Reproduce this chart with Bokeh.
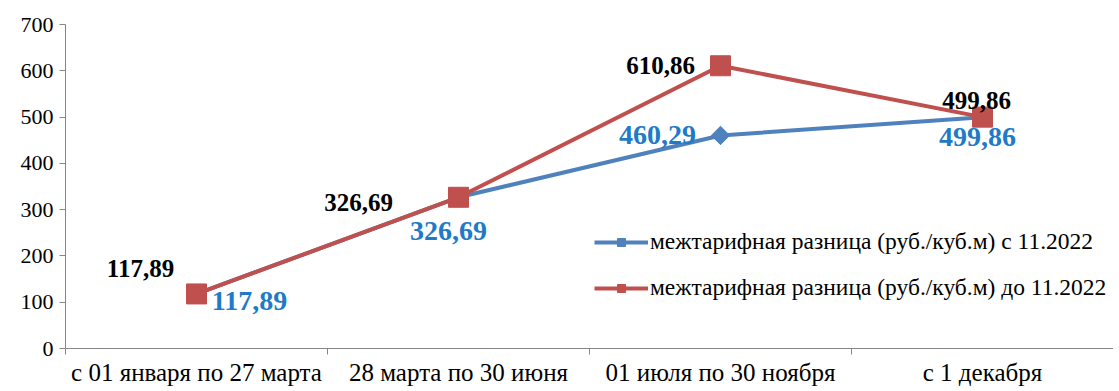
import numpy as np
from bokeh.plotting import figure
from bokeh.models import Range1d, FixedTicker, Legend, LegendItem, ColumnDataSource
from bokeh.core.properties import value
from bokeh.embed import file_html
from bokeh.resources import INLINE

categories = ["с 01 января по 27 марта", "28 марта по 30 июня", "01 июля по 30 ноября", "с 1 декабря"]
series_new = [117.89, 326.69, 460.29, 499.86]   # с 11.2022
series_old = [117.89, 326.69, 610.86, 499.86]   # до 11.2022
name_new = "межтарифная разница (руб./куб.м) с 11.2022"
name_old = "межтарифная разница (руб./куб.м) до 11.2022"
y_ticks = [0, 100, 200, 300, 400, 500, 600, 700]

# label offsets (screen px) - style only
off_old = [(-56, -25), (-100, 5), (-60, 0), (-6, -17)]
off_new = [(53, 7), (-10, 34), (-63, 0), (-5, 20)]

FONT = "Liberation Serif"
BLUE = "#4F81BD"
RED = "#C0504D"
BLUE_TXT = "#1F7BC8"

n = len(categories)
xs = np.arange(n) + 0.5

p = figure(width=1113, height=388, output_backend="svg", toolbar_location=None,
           x_range=Range1d(0, n), y_range=Range1d(0, 700))
p.min_border_left = 65
p.min_border_right = 0
p.min_border_top = 24
p.min_border_bottom = 30
p.outline_line_color = None
p.xgrid.visible = False
p.ygrid.visible = False

# axes
ax = p.xaxis[0]
ax.ticker = FixedTicker(ticks=list(xs), minor_ticks=list(range(n + 1)))
ax.major_label_overrides = {float(x): c for x, c in zip(xs, categories)}
ax.major_tick_line_color = None
ax.minor_tick_in = 0
ax.minor_tick_out = 6
ax.minor_tick_line_color = "#868686"
ax.axis_line_color = "#868686"
ax.major_label_text_font = FONT
ax.major_label_text_font_size = "25px"
ax.major_label_text_color = "black"
ax.major_label_standoff = 4

ay = p.yaxis[0]
ay.ticker = FixedTicker(ticks=y_ticks)
ay.minor_tick_line_color = None
ay.major_tick_in = 0
ay.major_tick_out = 6
ay.major_tick_line_color = "#868686"
ay.axis_line_color = "#868686"
ay.major_label_text_font = FONT
ay.major_label_text_font_size = "22px"
ay.major_label_text_color = "black"
ay.major_label_standoff = 6

# series
l1 = p.line(xs, series_new, line_color=BLUE, line_width=4)
m1 = p.scatter(xs, series_new, marker="square", angle=np.pi / 4, size=13,
               fill_color=BLUE, line_color=BLUE)
l2 = p.line(xs, series_old, line_color=RED, line_width=4)
m2 = p.scatter(xs, series_old, marker="square", size=20, fill_color=RED, line_color=RED)

fmt = lambda v: f"{v:.2f}".replace(".", ",")

src_old = ColumnDataSource(dict(x=xs, y=series_old, t=[fmt(v) for v in series_old],
                                dx=[o[0] for o in off_old], dy=[o[1] for o in off_old]))
p.text(x="x", y="y", text="t", x_offset="dx", y_offset="dy", source=src_old,
       text_font=value(FONT), text_font_size="25px", text_font_style="bold",
       text_color="black", text_align="center", text_baseline="middle")

src_new = ColumnDataSource(dict(x=xs, y=series_new, t=[fmt(v) for v in series_new],
                                dx=[o[0] for o in off_new], dy=[o[1] for o in off_new]))
p.text(x="x", y="y", text="t", x_offset="dx", y_offset="dy", source=src_new,
       text_font=value(FONT), text_font_size="28px", text_font_style="bold",
       text_color=BLUE_TXT, text_align="center", text_baseline="middle")

legend = Legend(items=[LegendItem(label=name_new, renderers=[l1, m1]),
                       LegendItem(label=name_old, renderers=[l2, m2])],
                location=(529, 47), orientation="vertical")
legend.glyph_width = 54
legend.glyph_height = 20
legend.spacing = 19
legend.padding = 0
legend.margin = 0
legend.border_line_color = None
legend.background_fill_alpha = 0
legend.label_text_font = FONT
legend.label_text_font_size = "23.5px"
legend.label_text_color = "black"
legend.label_standoff = 2
p.add_layout(legend, "center")

open("out.html", "w").write(file_html(p, INLINE))
